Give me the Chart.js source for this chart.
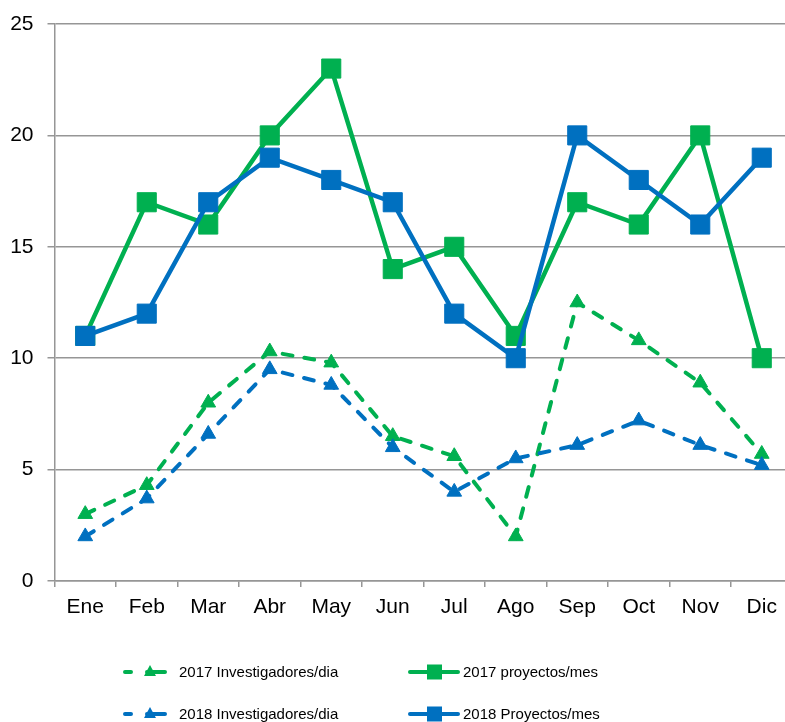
<!DOCTYPE html>
<html>
<head>
<meta charset="utf-8">
<script src="https://cdn.jsdelivr.net/npm/chart.js@4"></script>
<style>
  html, body { margin: 0; padding: 0; background: #fff; overflow: hidden; }
  #wrap { position: absolute; left: 0; top: 0; width: 1000px; height: 722px; }
</style>
</head>
<body>
<div id="wrap"><canvas id="chart" width="800" height="722"></canvas></div>
<script>
// chart data
const months = ['Ene', 'Feb', 'Mar', 'Abr', 'May', 'Jun', 'Jul', 'Ago', 'Sep', 'Oct', 'Nov', 'Dic'];
const inv2017 = [3, 4.3, 8, 10.3, 9.8, 6.5, 5.6, 2, 12.5, 10.8, 8.9, 5.7];
const inv2018 = [2, 3.7, 6.6, 9.5, 8.8, 6.0, 4.0, 5.5, 6.1, 7.2, 6.1, 5.2];
const proy2017 = [11, 17, 16, 20, 23, 14, 15, 11, 17, 16, 20, 10];
const proy2018 = [11, 12, 17, 19, 18, 17, 12, 10, 20, 18, 16, 19];
const yTicks = [0, 5, 10, 15, 20, 25];

const GREEN = '#00B050';
const BLUE = '#0070C0';
const GRID = '#969696';
const FONT = '"Liberation Sans", Arial, sans-serif';

// plot area runs past the right edge of the window, like the original
const PLOT_RIGHT = 792.5;

// legend drawn as a 2x2 grid below the axis
const legendItems = [
    { text: '2017 Investigadores/dia', color: GREEN, dashed: true, x: 123, y: 672 },
    { text: '2017 proyectos/mes', color: GREEN, dashed: false, x: 408, y: 672 },
    { text: '2018 Investigadores/dia', color: BLUE, dashed: true, x: 123, y: 714 },
    { text: '2018 Proyectos/mes', color: BLUE, dashed: false, x: 408, y: 714 }
];

const gridLegend = {
    id: 'gridLegend',
    afterDraw(chart) {
        const ctx = chart.ctx;
        ctx.save();
        legendItems.forEach(item => {
            ctx.strokeStyle = item.color;
            ctx.fillStyle = item.color;
            ctx.lineWidth = 4;
            ctx.lineCap = 'round';
            if (item.dashed) {
                ctx.beginPath();
                ctx.moveTo(item.x + 2, item.y);
                ctx.lineTo(item.x + 8, item.y);
                ctx.moveTo(item.x + 24, item.y);
                ctx.lineTo(item.x + 42, item.y);
                ctx.stroke();
                ctx.beginPath();
                ctx.moveTo(item.x + 27, item.y - 7);
                ctx.lineTo(item.x + 33, item.y + 4);
                ctx.lineTo(item.x + 21, item.y + 4);
                ctx.closePath();
                ctx.fill();
            } else {
                ctx.beginPath();
                ctx.moveTo(item.x + 2, item.y);
                ctx.lineTo(item.x + 50, item.y);
                ctx.stroke();
                ctx.fillRect(item.x + 19, item.y - 7.5, 15, 15);
            }
            ctx.fillStyle = '#000';
            ctx.font = '15px ' + FONT;
            ctx.textBaseline = 'middle';
            ctx.textAlign = 'left';
            ctx.fillText(item.text, item.dashed ? item.x + 56 : item.x + 55, item.y + 1);
        });
        ctx.restore();
    }
};

function squareSet(label, data, color) {
    return {
        label: label,
        data: data,
        borderColor: color,
        backgroundColor: color,
        borderWidth: 4.5,
        pointStyle: 'rect',
        pointRadius: 13.5,
        pointBorderWidth: 1,
        pointBorderColor: color,
        pointBackgroundColor: color
    };
}

function triangleSet(label, data, color) {
    return {
        label: label,
        data: data,
        borderColor: color,
        backgroundColor: color,
        borderWidth: 4,
        borderDash: [10, 12],
        borderCapStyle: 'round',
        pointStyle: 'triangle',
        pointRadius: 8.5,
        pointBorderWidth: 1,
        pointBorderColor: color,
        pointBackgroundColor: color
    };
}

function makeChart(canvas) {
    return new Chart(canvas, {
        type: 'line',
        data: {
            labels: months,
            datasets: [
                squareSet('2018 Proyectos/mes', proy2018, BLUE),
                squareSet('2017 proyectos/mes', proy2017, GREEN),
                triangleSet('2018 Investigadores/dia', inv2018, BLUE),
                triangleSet('2017 Investigadores/dia', inv2017, GREEN)
            ]
        },
        options: {
            responsive: false,
            animation: false,
            layout: { padding: { top: 24, right: 0, left: 0, bottom: 0 } },
            plugins: {
                legend: { display: false },
                tooltip: { enabled: false }
            },
            elements: { line: { tension: 0 } },
            scales: {
                x: {
                    offset: true,
                    grid: {
                        offset: true,
                        drawOnChartArea: false,
                        drawTicks: true,
                        tickLength: 6,
                        color: GRID,
                        lineWidth: 1.5
                    },
                    border: { color: GRID, width: 1.5 },
                    ticks: {
                        color: '#000',
                        font: { family: FONT, size: 21 },
                        padding: 8,
                        maxRotation: 0
                    },
                    afterFit: (scale) => {
                        scale.height = 141;
                        scale.paddingLeft = 0;
                        scale.paddingRight = 0;
                    }
                },
                y: {
                    min: 0,
                    max: 25,
                    afterBuildTicks: (scale) => { scale.ticks = yTicks.map(v => ({ value: v })); },
                    grid: {
                        color: GRID,
                        lineWidth: 1.5,
                        tickLength: 7
                    },
                    border: { color: GRID, width: 1.5 },
                    ticks: {
                        color: '#000',
                        font: { family: FONT, size: 21 },
                        padding: 14
                    },
                    afterFit: (scale) => {
                        scale.width = 54.5;
                        scale.paddingTop = 0;
                        scale.paddingBottom = 0;
                    }
                }
            }
        },
        plugins: [gridLegend]
    });
}

// first pass to measure where the plot ends, then widen the canvas to match
const canvas = document.getElementById('chart');
const probe = makeChart(canvas);
const extra = PLOT_RIGHT - probe.chartArea.right;
probe.destroy();
const newWidth = Math.round(800 + extra);
canvas.width = newWidth;
canvas.height = 722;
canvas.style.width = newWidth + 'px';
canvas.style.height = '722px';
makeChart(canvas);
</script>
</body>
</html>
